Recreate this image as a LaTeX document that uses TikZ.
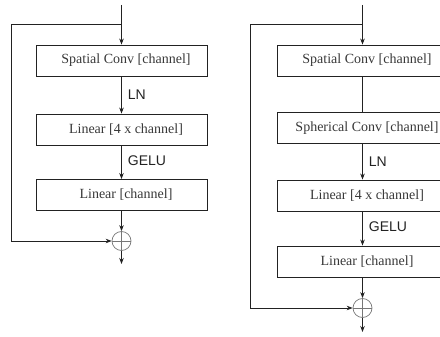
\documentclass[tikz,border=0pt]{standalone}
\usepackage{fontspec}
\setmainfont{Liberation Serif}
\newfontfamily\lblfont{Liberation Sans}
\usetikzlibrary{arrows.meta}
\definecolor{ink}{HTML}{222222}
\definecolor{ring}{HTML}{777777}
\begin{document}
\begin{tikzpicture}[x=1pt,y=-1pt,
  blk/.style={draw=ink,line width=0.85pt,minimum width=171pt,minimum height=31pt,inner sep=0pt},
  blktext/.style={font=\fontsize{14}{16}\selectfont,text=ink!90,inner sep=0pt,xshift=4.5pt},
  conn/.style={draw=ink,line width=0.85pt},
  arr/.style={conn,-{Stealth[length=6pt,width=4.5pt]}},
  sumnode/.style={circle,draw=ring,line width=0.7pt,minimum size=19pt,inner sep=0pt,
    path picture={\draw[ring,line width=0.7pt] (path picture bounding box.north) -- (path picture bounding box.south) (path picture bounding box.west) -- (path picture bounding box.east);}},
  lbl/.style={anchor=west,font=\lblfont\fontsize{14}{16}\selectfont,text=ink,inner sep=0pt}]
\useasboundingbox (0,0) rectangle (440,337);
% ---------- left block ----------
\coordinate (Ltop) at (121.5,5);
\coordinate (Lsplit) at (121.5,24);
\coordinate (Lcorner1) at (11,24);
\node[blk] (La) at (121.5,60.5) {};
\node[blktext] (Lat) at (La.center) {Spatial Conv [channel]};
\node[blk] (Lb) at (121.5,129.5) {};
\node[blktext] (Lbt) at (Lb.center) {Linear [4 x channel]};
\node[blk] (Lc) at (121.5,195) {};
\node[blktext] (Lct) at (Lc.center) {Linear [channel]};
\node[sumnode] (Ls) at (121.5,241) {};
\coordinate (Lcorner2) at (11,241);
\coordinate (Lout) at (121.5,264);
\draw[arr] (Ltop) -- (La.north);
\draw[conn] (Lsplit) -- (Lcorner1) -- (Lcorner2);
\draw[arr] (Lcorner2) -- (Ls.west);
\draw[arr] (La.south) -- node[lbl,xshift=6pt,pos=0.5] {LN} (Lb.north);
\draw[arr] (Lb.south) -- node[lbl,xshift=6pt,pos=0.45] {GELU} (Lc.north);
\draw[arr] (Lc.south) -- (Ls.north);
\draw[arr] (Ls.south) -- (Lout);
% ---------- right block ----------
\coordinate (Rtop) at (362.5,5);
\coordinate (Rsplit) at (362.5,24);
\coordinate (Rcorner1) at (250,24);
\node[blk] (Ra) at (362.5,60.5) {};
\node[blktext] (Rat) at (Ra.center) {Spatial Conv [channel]};
\node[blk] (Rb) at (362.5,128) {};
\node[blktext] (Rbt) at (Rb.center) {Spherical Conv [channel]};
\node[blk] (Rc) at (362.5,195.5) {};
\node[blktext] (Rct) at (Rc.center) {Linear [4 x channel]};
\node[blk] (Rd) at (362.5,261.5) {};
\node[blktext] (Rdt) at (Rd.center) {Linear [channel]};
\node[sumnode] (Rs) at (362.5,308) {};
\coordinate (Rcorner2) at (250,308);
\coordinate (Rout) at (362.5,332);
\draw[arr] (Rtop) -- (Ra.north);
\draw[conn] (Rsplit) -- (Rcorner1) -- (Rcorner2);
\draw[arr] (Rcorner2) -- (Rs.west);
\draw[conn] (Ra.south) -- (Rb.north);
\draw[arr] (Rb.south) -- node[lbl,xshift=6pt,pos=0.5] {LN} (Rc.north);
\draw[arr] (Rc.south) -- node[lbl,xshift=6pt,pos=0.45] {GELU} (Rd.north);
\draw[arr] (Rd.south) -- (Rs.north);
\draw[arr] (Rs.south) -- (Rout);
\end{tikzpicture}
\end{document}
